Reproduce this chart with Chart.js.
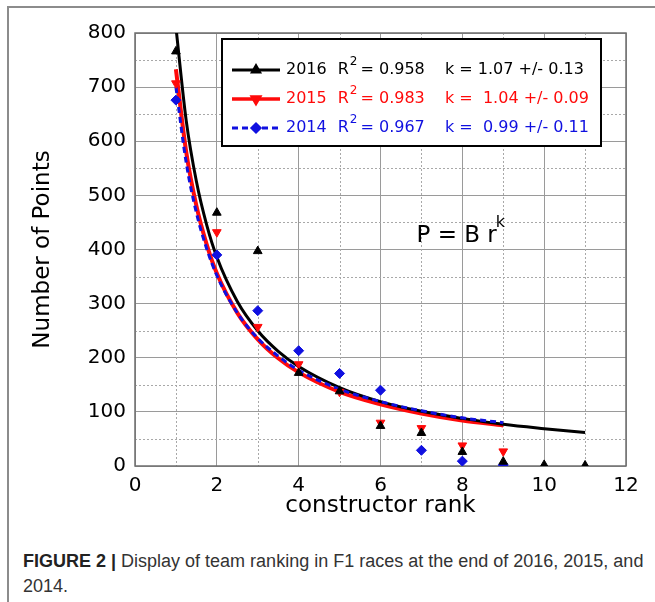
<!DOCTYPE html>
<html>
<head>
<meta charset="utf-8">
<script src="https://cdn.jsdelivr.net/npm/chart.js@4.4.1/dist/chart.umd.min.js"></script>
<style>
  body { margin: 0; background: #fff; width: 655px; height: 602px; overflow: hidden; position: relative; }
  #frame { position: absolute; left: 7px; top: 6px; width: 700px; height: 700px;
           border-left: 2px solid #8c8c8c; border-top: 2px solid #8c8c8c; }
  #chart { position: absolute; left: 0; top: 0; }
  #caption { position: absolute; left: 23px; top: 549px; color: #333;
             font: 18px "Liberation Sans Narrow", "Liberation Sans", sans-serif; line-height: 24.7px; }
  #caption b { font-family: "Liberation Sans", sans-serif; color: #222; }
</style>
</head>
<body>
<div id="frame"></div>
<canvas id="chart" width="655" height="530"></canvas>
<div id="caption"><b>FIGURE 2 |</b> Display of team ranking in F1 races at the end of 2016, 2015, and<br>2014.</div>

<script>
// ---------------- DATA ----------------
const ranks2016 = [1, 2, 3, 4, 5, 6, 7, 8, 9, 10, 11];
const points2016 = [766, 468, 397, 172, 138, 74, 61, 26, 8, 2, 1];

const ranks2015 = [1, 2, 3, 4, 5, 6, 7, 8, 9];
const points2015 = [707, 432, 257, 188, 137, 80, 70, 38, 27];

const ranks2014 = [1, 2, 3, 4, 5, 6, 7, 8, 9];
const points2014 = [676, 390, 287, 213, 171, 140, 29, 9, 2];

// fitted curves P = B r^k, sampled by eye along the drawn lines
const fitRanks2016 = [1, 1.25, 1.5, 1.75, 2, 2.5, 3, 3.5, 4, 5, 6, 7, 8, 9, 10, 11];
const fitPoints2016 = [811, 639, 526, 446, 386, 304, 250, 212, 184, 145, 119, 101, 88, 77, 69, 62];

const fitRanks = [1, 1.25, 1.5, 1.75, 2, 2.5, 3, 3.5, 4, 5, 6, 7, 8, 9];
const fitPoints2015 = [733, 581, 481, 410, 356, 283, 234, 199, 173, 137, 114, 97, 84, 75];
const fitPoints2014 = [700, 561, 468, 402, 352, 283, 236, 203, 177, 142, 119, 102, 89, 80];

const xTicks = [0, 2, 4, 6, 8, 10, 12];
const yTicks = [0, 100, 200, 300, 400, 500, 600, 700, 800];

const legendYears = ["2016", "2015", "2014"];
const legendR2 = ["0.958", "0.983", "0.967"];
const legendK = ["k = 1.07 +/- 0.13", "k =  1.04 +/- 0.09", "k =  0.99 +/- 0.11"];

// ---------------- STYLE ----------------
const BLACK = "#000000";
const RED = "#ff0a0a";
const BLUE = "#1010e0";
const FONT = "'DejaVu Sans', sans-serif";

const toXY = (xs, ys) => xs.map((x, i) => ({ x: x, y: ys[i] }));

// ---------------- PLUGINS ----------------
// dotted minor grid + plot frame
const minorGrid = {
  id: "minorGrid",
  beforeDatasetsDraw(chart) {
    const { ctx, chartArea: a, scales: { x, y } } = chart;
    ctx.save();
    ctx.strokeStyle = "#a8a8a8";
    ctx.lineWidth = 1;
    ctx.setLineDash([2, 2]);
    for (let v = 1; v < 12; v += 2) {
      const px = Math.round(x.getPixelForValue(v)) + 0.5;
      ctx.beginPath(); ctx.moveTo(px, a.top); ctx.lineTo(px, a.bottom); ctx.stroke();
    }
    for (let v = 50; v < 800; v += 100) {
      const py = Math.round(y.getPixelForValue(v)) + 0.5;
      ctx.beginPath(); ctx.moveTo(a.left, py); ctx.lineTo(a.right, py); ctx.stroke();
    }
    ctx.setLineDash([]);
    ctx.strokeStyle = "#6e6e6e";
    ctx.lineWidth = 1.5;
    ctx.strokeRect(a.left, a.top, a.right - a.left, a.bottom - a.top);
    ctx.restore();
  }
};

// boxed legend with superscripts, and the P = B r^k label
const fitLegend = {
  id: "fitLegend",
  afterDatasetsDraw(chart) {
    const { ctx, chartArea: a, scales: { x, y } } = chart;
    const colors = [BLACK, RED, BLUE];
    const styles = ["triangle", "triangle", "rectRot"];
    const rots = [0, 180, 0];
    const dashes = [[], [], [6, 4]];
    const widths = [3, 3.5, 3];

    const bx = a.left + 87, by = a.top + 6, bw = 379, bh = 107;
    ctx.save();
    ctx.fillStyle = "#fff";
    ctx.fillRect(bx, by, bw, bh);
    ctx.strokeStyle = "#000";
    ctx.lineWidth = 2;
    ctx.strokeRect(bx, by, bw, bh);

    const rowY = [31, 60, 89];
    ctx.textBaseline = "middle";
    legendYears.forEach((yr, i) => {
      const cy = by + rowY[i];
      ctx.strokeStyle = colors[i];
      ctx.lineWidth = widths[i];
      ctx.setLineDash(dashes[i]);
      ctx.beginPath(); ctx.moveTo(bx + 10, cy); ctx.lineTo(bx + 58, cy); ctx.stroke();
      ctx.setLineDash([]);
      ctx.fillStyle = colors[i];
      ctx.strokeStyle = colors[i];
      Chart.helpers.drawPoint(ctx, { pointStyle: styles[i], radius: 4, rotation: rots[i], borderWidth: 1 }, bx + 34, cy);

      ctx.fillStyle = colors[i];
      ctx.font = "16px " + FONT;
      let tx = bx + 64;
      ctx.fillText(yr, tx, cy);
      tx += ctx.measureText(yr).width + 11;
      ctx.fillText("R", tx, cy);
      tx += ctx.measureText("R").width + 1;
      ctx.font = "12px " + FONT;
      ctx.fillText("2", tx, cy - 8);
      tx += ctx.measureText("2").width + 3;
      ctx.font = "16px " + FONT;
      ctx.fillText("= " + legendR2[i], tx, cy);
      ctx.fillText(legendK[i], bx + 223, cy);
    });

    // formula label
    ctx.fillStyle = "#000";
    ctx.textBaseline = "alphabetic";
    ctx.font = "23px " + FONT;
    const fx = x.getPixelForValue(6.88), fy = y.getPixelForValue(414);
    ctx.fillText("P = B r", fx, fy);
    const w = ctx.measureText("P = B r").width;
    ctx.font = "16px " + FONT;
    ctx.fillText("k", fx + w - 1, fy - 15);
    ctx.restore();
  }
};

// ---------------- CHART ----------------
const ctx = document.getElementById("chart").getContext("2d");
new Chart(ctx, {
  type: "scatter",
  data: {
    datasets: [
      { label: "2016 pts", data: toXY(ranks2016, points2016), order: 0,
        pointStyle: "triangle", pointRadius: 5, backgroundColor: BLACK, borderColor: BLACK, borderWidth: 1 },
      { label: "2015 pts", data: toXY(ranks2015, points2015), order: 1,
        pointStyle: "triangle", rotation: 180, pointRadius: 5, backgroundColor: RED, borderColor: RED, borderWidth: 1 },
      { label: "2014 pts", data: toXY(ranks2014, points2014), order: 2,
        pointStyle: "rectRot", pointRadius: 5, backgroundColor: BLUE, borderColor: BLUE, borderWidth: 1 },
      { label: "2014 fit", data: toXY(fitRanks, fitPoints2014), order: 3, showLine: true,
        pointRadius: 0, borderColor: BLUE, borderWidth: 3, borderDash: [6, 4], cubicInterpolationMode: "monotone" },
      { label: "2016 fit", data: toXY(fitRanks2016, fitPoints2016), order: 4, showLine: true,
        pointRadius: 0, borderColor: BLACK, borderWidth: 3, cubicInterpolationMode: "monotone" },
      { label: "2015 fit", data: toXY(fitRanks, fitPoints2015), order: 5, showLine: true,
        pointRadius: 0, borderColor: RED, borderWidth: 4, cubicInterpolationMode: "monotone" }
    ]
  },
  options: {
    responsive: false,
    animation: false,
    layout: { padding: { top: 33, right: 29, bottom: 0, left: 0 } },
    plugins: { legend: { display: false }, tooltip: { enabled: false } },
    scales: {
      x: {
        type: "linear", min: 0, max: 12,
        afterBuildTicks: s => { s.ticks = xTicks.map(v => ({ value: v })); },
        afterFit: s => { s.height = 64; },
        grid: { color: "#9a9a9a", lineWidth: 1, drawTicks: false },
        border: { display: false },
        ticks: { color: "#000", padding: 8, font: { family: FONT, size: 20 } },
        title: { display: true, text: "constructor rank", color: "#000",
                 font: { family: FONT, size: 23 }, padding: { top: 0, bottom: 10 } }
      },
      y: {
        type: "linear", min: 0, max: 800,
        afterBuildTicks: s => { s.ticks = yTicks.map(v => ({ value: v })); },
        afterFit: s => { s.width = 135; },
        grid: { color: "#9a9a9a", lineWidth: 1, drawTicks: false },
        border: { display: false },
        ticks: { color: "#000", padding: 9, font: { family: FONT, size: 20 } },
        title: { display: true, text: "Number of Points", color: "#000",
                 font: { family: FONT, size: 23 }, padding: { top: 29, bottom: 0 } }
      }
    }
  },
  plugins: [minorGrid, fitLegend]
});
</script>
</body>
</html>
